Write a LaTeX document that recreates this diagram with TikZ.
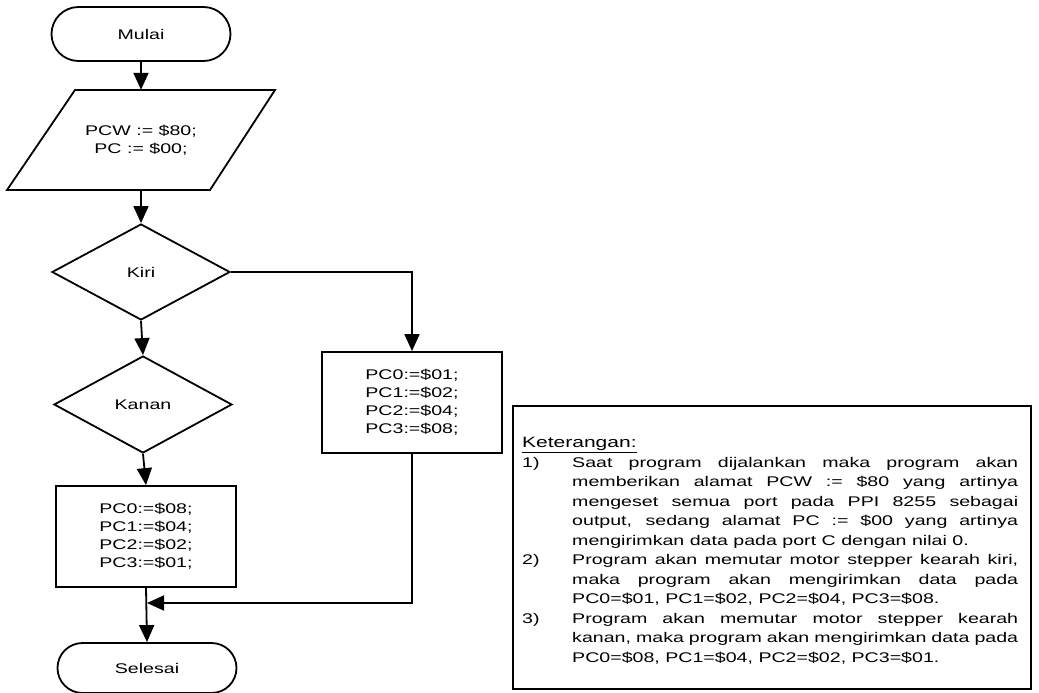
\documentclass[tikz,border=0pt]{standalone}
\usepackage{fontspec}
\setmainfont{Liberation Sans}[FakeStretch=1.4]
\usetikzlibrary{shapes.geometric,shapes.misc,arrows.meta}
\begin{document}
\begin{tikzpicture}[x=1pt,y=-1pt,
  every node/.style={font=\fontsize{14}{18}\selectfont},
  line/.style={line width=1.8pt},
  arr/.style={line width=1.8pt,-{Triangle[length=17pt,width=15pt]}},
  term/.style={draw,line width=1.8pt,rounded rectangle,minimum width=179pt,minimum height=54pt,inner sep=0pt},
  dec/.style={draw,line width=1.8pt,diamond,minimum width=178pt,minimum height=96pt,inner sep=0pt},
  proc/.style={draw,line width=1.8pt,rectangle,minimum width=180pt,minimum height=101pt,align=center,inner sep=0pt},
  iotext/.style={rectangle,minimum width=135pt,minimum height=100pt,align=center,inner sep=0pt},
  note/.style={draw,line width=1.8pt,rectangle,minimum width=518pt,minimum height=283pt,inner sep=0pt},
  notetext/.style={inner sep=0pt,text width=496pt,align=justify,font=\fontsize{14}{19.5}\selectfont}
]
\useasboundingbox (0,0) rectangle (1039,693);

% nodes
\node[term] (start) at (141,34) {Mulai};
\node[iotext] (io) at (141,140) {PCW := \$80;\\PC := \$00;};
\draw[line] (75,90) -- (275,90) -- (210,190) -- (7,190) -- cycle;
\node[dec] (kiri) at (141,272) {Kiri};
\node[dec,minimum height=97pt] (kanan) at (143,404.5) {Kanan};
\node[proc] (rbox) at (412,402.5) {PC0:=\$01;\\PC1:=\$02;\\PC2:=\$04;\\PC3:=\$08;};
\node[proc] (lbox) at (146,536.5) {PC0:=\$08;\\PC1:=\$04;\\PC2:=\$02;\\PC3:=\$01;};
\node[term,minimum height=50pt] (stop) at (147,668) {Selesai};
\coordinate (merge) at (147,603);

% connectors
\draw[arr] (start) -- (io.north);
\draw[arr] (io.south) -- (kiri.north);
\draw[arr] (kiri.east) -| (rbox.north);
\draw[arr] (kiri.south) -- (kanan.north);
\draw[arr] (kanan.south) -- (lbox.north);
\draw[arr] (lbox.south) -- (stop.north);
\draw[arr] (rbox.south) |- (merge);

% legend
\node[note,anchor=north west] (ketbox) at (512,405) {};
\node[notetext,anchor=north west] (ket) at (522,437) {%
{\fontsize{15}{19.5}\selectfont\underline{Keterangan:}}\par
\hangindent=50pt\hangafter=1\noindent\makebox[50pt][l]{1)}Saat program dijalankan maka program akan\linebreak
memberikan alamat PCW := \$80 yang artinya\linebreak
mengeset semua port pada PPI 8255 sebagai\linebreak
output, sedang alamat PC := \$00 yang artinya\linebreak
mengirimkan data pada port C dengan nilai 0.\par
\hangindent=50pt\hangafter=1\noindent\makebox[50pt][l]{2)}Program akan memutar motor stepper kearah kiri,\linebreak
maka program akan mengirimkan data pada\linebreak
PC0=\$01, PC1=\$02, PC2=\$04, PC3=\$08.\par
\hangindent=50pt\hangafter=1\noindent\makebox[50pt][l]{3)}Program akan memutar motor stepper kearah\linebreak
kanan, maka program akan mengirimkan data pada\linebreak
PC0=\$08, PC1=\$04, PC2=\$02, PC3=\$01.\par};
\end{tikzpicture}
\end{document}
